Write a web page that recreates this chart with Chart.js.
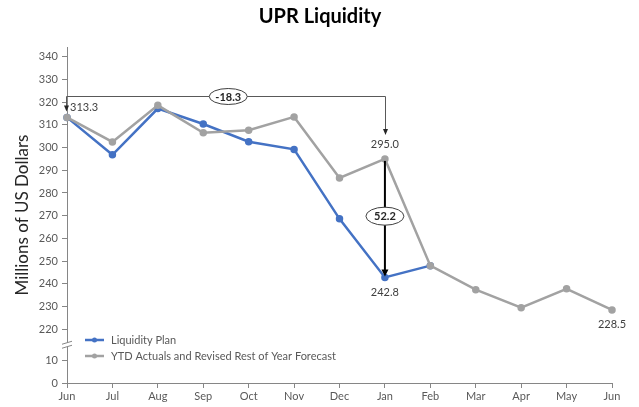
<!DOCTYPE html>
<html>
<head>
<meta charset="utf-8">
<script src="https://cdn.jsdelivr.net/npm/chart.js@4/dist/chart.umd.min.js"></script>
<style>
html,body{margin:0;padding:0;background:#fff;}
#wrap{width:639px;height:407px;}
</style>
</head>
<body>
<div id="wrap"><canvas id="c" width="639" height="407"></canvas></div>
<script>
// ---- data ----
const months = ['Jun','Jul','Aug','Sep','Oct','Nov','Dec','Jan','Feb','Mar','Apr','May','Jun'];
const planValues = [313.3, 296.8, 317.2, 310.4, 302.6, 299.2, 268.6, 242.8, 248.0, null, null, null, null];
const forecastValues = [313.3, 302.5, 318.6, 306.5, 307.6, 313.5, 286.6, 295.0, 248.0, 237.4, 229.5, 237.8, 228.5];
const yTickValues = [0, 10, 220, 230, 240, 250, 260, 270, 280, 290, 300, 310, 320, 330, 340];
const seriesNames = ['Liquidity Plan', 'YTD Actuals and Revised Rest of Year Forecast'];
const pointLabels = [
  {series: 1, index: 0, text: '313.3', pos: 'right'},
  {series: 1, index: 7, text: '295.0', pos: 'above'},
  {series: 0, index: 7, text: '242.8', pos: 'below'},
  {series: 1, index: 12, text: '228.5', pos: 'below'}
];
const bracketLevel = 322.8;
const bracketText = '-18.3';
const gapText = '52.2';

// ---- axis break mapping ----
const BREAK_LOW = 10, BREAK_HIGH = 220, GAP = 13.7;
const toDisp = v => v == null ? null : (v <= BREAK_LOW + 5 ? v : v - BREAK_HIGH + BREAK_LOW + GAP);
const fromDisp = d => d <= BREAK_LOW + 5 ? d : d + BREAK_HIGH - BREAK_LOW - GAP;

const FONT = "Lato, 'Open Sans', 'Liberation Sans', sans-serif";
const BLUE = '#4472C4', GRAY = '#A2A2A2', AXIS = '#868686', TXT = '#595959';
const dataSeries = [planValues, forecastValues];

function arrowDown(ctx, x, y, w, h) {
  ctx.beginPath(); ctx.moveTo(x - w/2, y - h); ctx.lineTo(x + w/2, y - h); ctx.lineTo(x, y); ctx.closePath(); ctx.fill();
}
function ellipseLabel(ctx, cx, cy, rx, ry, text) {
  ctx.beginPath(); ctx.ellipse(cx, cy, rx, ry, 0, 0, Math.PI*2);
  ctx.fillStyle = '#fff'; ctx.fill();
  ctx.lineWidth = 1; ctx.strokeStyle = '#404040'; ctx.stroke();
  ctx.fillStyle = '#262626'; ctx.font = 'bold 11px ' + FONT;
  ctx.textAlign = 'center'; ctx.textBaseline = 'middle';
  ctx.fillText(text, cx, cy + 0.5);
}

const annotations = {
  id: 'annotations',
  afterDatasetsDraw(chart) {
    const {ctx, chartArea, scales: {x, y}} = chart;
    const px = i => x.getPixelForValue(i);
    const py = v => y.getPixelForValue(toDisp(v));
    ctx.save();
    // axis break marks
    const yb = y.getPixelForValue((BREAK_LOW + BREAK_LOW + GAP) / 2);
    const ax = chartArea.left;
    ctx.fillStyle = '#fff';
    ctx.fillRect(ax - 6, yb - 2, 12, 4);
    ctx.strokeStyle = AXIS; ctx.lineWidth = 1;
    ctx.beginPath();
    ctx.moveTo(ax - 5, yb - 0.5); ctx.lineTo(ax + 5, yb - 3.5);
    ctx.moveTo(ax - 5, yb + 3.5); ctx.lineTo(ax + 5, yb + 0.5);
    ctx.stroke();

    // bracket between Jun and Jan
    const yBr = Math.round(py(bracketLevel)) + 0.5;
    const x0 = Math.round(px(0)) - 0.5, x1 = Math.round(px(7)) + 0.5;
    ctx.strokeStyle = '#595959'; ctx.fillStyle = '#262626'; ctx.lineWidth = 1;
    ctx.beginPath();
    ctx.moveTo(x0, yBr); ctx.lineTo(x1, yBr);
    ctx.moveTo(x0, yBr); ctx.lineTo(x0, py(forecastValues[0]) - 9);
    ctx.moveTo(x1, yBr); ctx.lineTo(x1, py(forecastValues[7]) - 26);
    ctx.stroke();
    arrowDown(ctx, x0, py(forecastValues[0]) - 6, 5, 6);
    arrowDown(ctx, x1, py(forecastValues[7]) - 24, 5, 6);
    ellipseLabel(ctx, px(3.55), yBr, 19, 8, bracketText);

    // vertical gap arrow at Jan
    const yTop = py(forecastValues[7]), yBot = py(planValues[7]);
    ctx.strokeStyle = '#000'; ctx.fillStyle = '#000'; ctx.lineWidth = 2;
    ctx.beginPath(); ctx.moveTo(px(7), yTop + 2); ctx.lineTo(px(7), yBot - 6); ctx.stroke();
    arrowDown(ctx, px(7), yBot - 1, 7, 7);
    ellipseLabel(ctx, px(7), (yTop + yBot) / 2 - 2, 19, 9, gapText);

    // point labels
    ctx.font = '11px ' + FONT; ctx.fillStyle = '#404040';
    pointLabels.forEach(l => {
      const xx = px(l.index), yy = py(dataSeries[l.series][l.index]);
      if (l.pos === 'right') { ctx.textAlign = 'left'; ctx.textBaseline = 'middle'; ctx.fillText(l.text, xx + 3, yy - 10); }
      else if (l.pos === 'above') { ctx.textAlign = 'center'; ctx.textBaseline = 'middle'; ctx.fillText(l.text, xx, yy - 14); }
      else { ctx.textAlign = 'center'; ctx.textBaseline = 'middle'; ctx.fillText(l.text, xx, yy + 15); }
    });

    // legend
    const colors = [BLUE, GRAY];
    seriesNames.forEach((name, i) => {
      const ly = chartArea.bottom - 43 + i * 16;
      const lx = chartArea.left + 18;
      ctx.strokeStyle = colors[i]; ctx.fillStyle = colors[i]; ctx.lineWidth = 2.5;
      ctx.beginPath(); ctx.moveTo(lx, ly); ctx.lineTo(lx + 19, ly); ctx.stroke();
      ctx.beginPath(); ctx.arc(lx + 9.5, ly, 2.5, 0, Math.PI*2); ctx.fill();
      ctx.fillStyle = TXT; ctx.font = '11px ' + FONT; ctx.textAlign = 'left'; ctx.textBaseline = 'middle';
      ctx.fillText(name, lx + 26, ly);
    });
    ctx.restore();
  }
};

new Chart(document.getElementById('c'), {
  type: 'line',
  data: {
    labels: months,
    datasets: [
      {label: seriesNames[0], data: planValues.map(toDisp), borderColor: BLUE, backgroundColor: BLUE,
       borderWidth: 2.5, pointRadius: 2.5, pointHoverRadius: 2.5, tension: 0, order: 2},
      {label: seriesNames[1], data: forecastValues.map(toDisp), borderColor: GRAY, backgroundColor: GRAY,
       borderWidth: 2.5, pointRadius: 2.5, pointHoverRadius: 2.5, tension: 0, order: 1}
    ]
  },
  options: {
    responsive: false,
    animation: false,
    layout: {padding: {left: 28, right: 27, top: 0, bottom: 0}},
    plugins: {
      legend: {display: false},
      tooltip: {enabled: false},
      title: {display: true, text: 'UPR Liquidity', color: '#000',
        font: {family: FONT, size: 20, weight: 'bold'}, padding: {top: 5, bottom: 18}}
    },
    scales: {
      x: {
        offset: false,
        grid: {drawOnChartArea: false, drawTicks: true, tickLength: 5, color: AXIS},
        border: {color: AXIS, width: 1},
        ticks: {color: TXT, font: {family: FONT, size: 11}, padding: 2, maxRotation: 0, autoSkip: false},
        afterFit: s => { s.height = 24; }
      },
      y: {
        min: 0, max: 148,
        grid: {drawOnChartArea: false, drawTicks: true, tickLength: 5, color: AXIS},
        border: {color: AXIS, width: 1},
        afterBuildTicks: s => { s.ticks = yTickValues.map(v => ({value: toDisp(v)})); },
        ticks: {color: TXT, font: {family: FONT, size: 11}, padding: 4,
          callback: v => String(Math.round(fromDisp(v)))},
        title: {display: true, text: 'Millions of US Dollars', color: '#262626',
          font: {family: FONT, size: 17}, padding: {top: -16, bottom: 0}},
        afterFit: s => { s.width = 39; }
      }
    }
  },
  plugins: [annotations]
});
</script>
</body>
</html>
